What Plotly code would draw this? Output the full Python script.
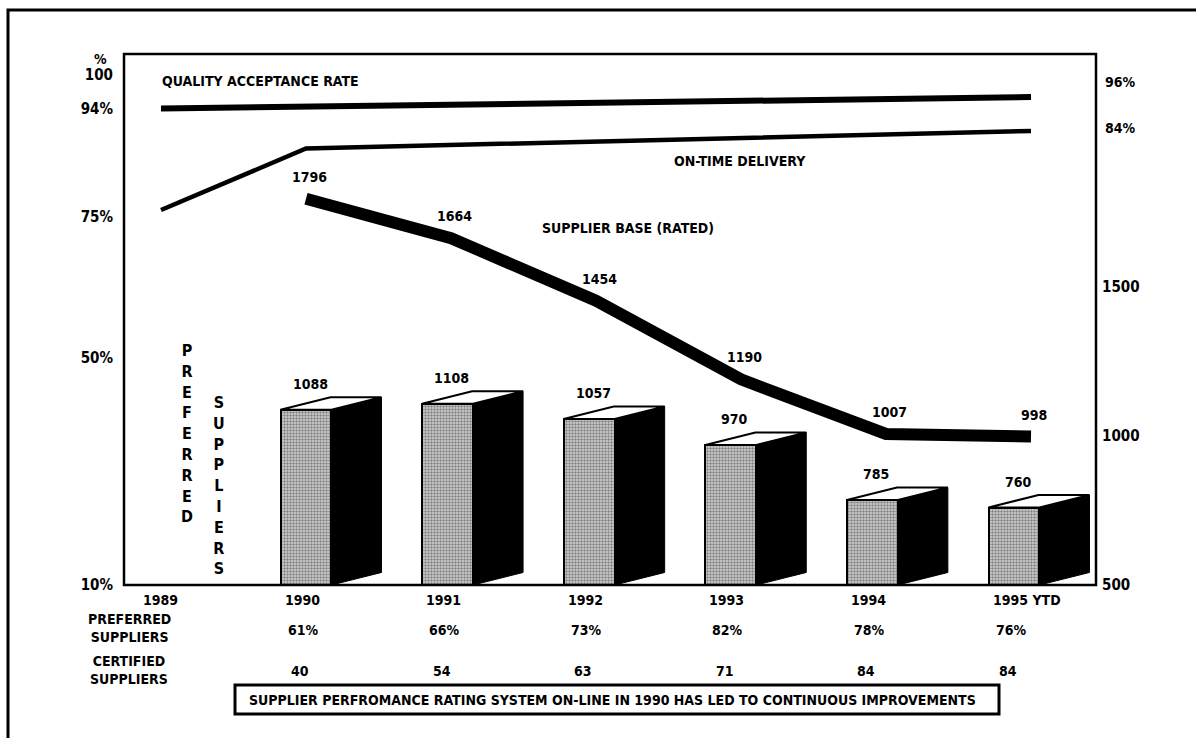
import plotly.graph_objects as go

# ---------------- data ----------------
years = [1989, 1990, 1991, 1992, 1993, 1994, 1995]
year_labels = ["1989", "1990", "1991", "1992", "1993", "1994", "1995 YTD"]
bar_years = [1990, 1991, 1992, 1993, 1994, 1995]
preferred_suppliers = [1088, 1108, 1057, 970, 785, 760]
supplier_base = [1796, 1664, 1454, 1190, 1007, 998]
preferred_pct = [61, 66, 73, 82, 78, 76]
certified_suppliers = [40, 54, 63, 71, 84, 84]
quality_years = [1989, 1995]
quality_rate = [94, 96]
ontime_years = [1989, 1990, 1995]
ontime_rate = [75, 82, 84]
pct_tickvals = [100, 94, 75, 50, 10]
pct_ticktext = ["100", "94%", "75%", "50%", "10%"]
base_tickvals = [500, 1000, 1500]

# ---------------- style / layout constants ----------------
FONT = "Liberation Sans Narrow, DejaVu Sans Condensed, Arial Narrow, sans-serif"
FS = 14
W, H = 1196, 738
L, R, T, B = 124, 100, 54, 153
PW, PH = W - L - R, H - T - B
BASE = 500
BAR_W = 0.36
DEPTH_X = 0.353
DEPTH_Y = 42


def px_x(p):
    return (p - L) / PW


def px_y(p):
    return (H - B - p) / PH


def font(size=FS):
    return dict(family=FONT, size=size, color="black", weight="bold")


def label(x, y, text, xref="paper", yref="paper", xanchor="center", size=FS, **kw):
    return dict(x=x, y=y, xref=xref, yref=yref, text=text, showarrow=False,
                xanchor=xanchor, yanchor="middle", font=font(size), **kw)


fig = go.Figure()

# front faces of the 3D bars
fig.add_trace(go.Bar(
    x=bar_years, y=[v - BASE for v in preferred_suppliers], base=BASE,
    width=BAR_W, xaxis="x", yaxis="y2",
    marker=dict(color="#cdcdcd", line=dict(color="black", width=2),
                pattern=dict(shape=".", fgcolor="#303030", bgcolor="#d6d6d6",
                             size=3, solidity=0.5)),
    showlegend=False, hoverinfo="skip"))

# side faces (black) and top faces (white), computed from the bar values
sx, sy, tx, ty = [], [], [], []
for x, v in zip(bar_years, preferred_suppliers):
    r = x + BAR_W / 2
    l = x - BAR_W / 2
    sx += [r, r, r + DEPTH_X, r + DEPTH_X, r, None]
    sy += [BASE, v, v + DEPTH_Y, BASE + DEPTH_Y, BASE, None]
    tx += [l, r, r + DEPTH_X, l + DEPTH_X, l, None]
    ty += [v, v, v + DEPTH_Y, v + DEPTH_Y, v, None]
fig.add_trace(go.Scatter(x=sx, y=sy, xaxis="x", yaxis="y2", mode="lines",
                         fill="toself", fillcolor="black",
                         line=dict(color="black", width=1),
                         showlegend=False, hoverinfo="skip"))
fig.add_trace(go.Scatter(x=tx, y=ty, xaxis="x", yaxis="y2", mode="lines",
                         fill="toself", fillcolor="white",
                         line=dict(color="black", width=2),
                         showlegend=False, hoverinfo="skip"))

# lines
fig.add_trace(go.Scatter(x=quality_years, y=quality_rate, xaxis="x2", yaxis="y",
                         mode="lines", line=dict(color="black", width=6),
                         showlegend=False, hoverinfo="skip"))
fig.add_trace(go.Scatter(x=ontime_years, y=ontime_rate, xaxis="x2", yaxis="y3",
                         mode="lines", line=dict(color="black", width=4.5),
                         showlegend=False, hoverinfo="skip"))
fig.add_trace(go.Scatter(x=bar_years, y=supplier_base, xaxis="x2", yaxis="y2",
                         mode="lines", line=dict(color="black", width=12),
                         showlegend=False, hoverinfo="skip"))

ann = []
# supplier base value labels
for x, v in zip(bar_years, supplier_base):
    ann.append(label(x, v, str(v), xref="x2", yref="y2", xshift=3, yshift=22))
# bar value labels
for x, v in zip(bar_years, preferred_suppliers):
    ann.append(label(x, v, str(v), xref="x", yref="y2", xshift=4, yshift=26))

# series names
ann.append(label(px_x(160), px_y(81), "QUALITY ACCEPTANCE RATE", xanchor="left"))
ann.append(label(px_x(740), px_y(161), "ON-TIME DELIVERY"))
ann.append(label(px_x(628), px_y(228), "SUPPLIER BASE (RATED)"))

# end-of-line values on the right
ann.append(label(px_x(1103), quality_rate[-1], f"{quality_rate[-1]}%", yref="y",
                 xanchor="left", yshift=15))
ann.append(label(px_x(1103), ontime_rate[-1], f"{ontime_rate[-1]}%", yref="y3",
                 xanchor="left", yshift=3))

# "%" unit above the left axis
ann.append(label(px_x(100), px_y(59), "%"))

# vertical words
ann.append(label(px_x(187), px_y(434), "<br>".join("PREFERRED"), size=16))
ann.append(label(px_x(219), px_y(485), "<br>".join("SUPPLIERS"), size=16))

# table below the chart
for yr, lab in zip(years, year_labels):
    ann.append(label(yr - BAR_W / 2, px_y(600), lab, xref="x", xanchor="left", xshift=2))
for x, p in zip(bar_years, preferred_pct):
    ann.append(label(x, px_y(630), f"{p}%", xref="x", xshift=-3))
for x, c in zip(bar_years, certified_suppliers):
    ann.append(label(x, px_y(671), str(c), xref="x", xshift=-6))
ann.append(label(px_x(129), px_y(628), "PREFERRED<br>SUPPLIERS"))
ann.append(label(px_x(129), px_y(670), "CERTIFIED<br>SUPPLIERS"))
ann.append(label(px_x(612), px_y(700),
                 "SUPPLIER PERFROMANCE RATING SYSTEM ON-LINE IN 1990 HAS LED TO CONTINUOUS IMPROVEMENTS"))

shapes = [
    # plot frame
    dict(type="rect", xref="paper", yref="paper", x0=0, y0=0, x1=1, y1=1,
         line=dict(color="black", width=2.5), layer="above"),
    # outer frame
    dict(type="rect", xref="paper", yref="paper", x0=px_x(8), y0=px_y(750),
         x1=px_x(1210), y1=px_y(10), line=dict(color="black", width=3)),
    # caption box
    dict(type="rect", xref="paper", yref="paper", x0=px_x(235), y0=px_y(714),
         x1=px_x(999), y1=px_y(685), line=dict(color="black", width=3)),
]

fig.update_layout(
    width=W, height=H,
    margin=dict(l=L, r=R, t=T, b=B),
    paper_bgcolor="white", plot_bgcolor="rgba(0,0,0,0)",
    font=font(),
    showlegend=False,
    bargap=0,
    xaxis=dict(range=[1990 - (306 - L) / 141.6, 1990 + (L + PW - 306) / 141.6],
               showticklabels=False, showgrid=False, zeroline=False, showline=False,
               ticks=""),
    xaxis2=dict(overlaying="x", range=[1990 - (306 - L) / 145.0, 1990 + (L + PW - 306) / 145.0],
                visible=False),
    yaxis=dict(range=[10, 103.6], tickvals=pct_tickvals, ticktext=pct_ticktext,
               showgrid=False, zeroline=False, showline=False, ticks="",
               ticklabelstandoff=10, tickfont=font(15)),
    yaxis2=dict(overlaying="y", side="right", range=[BASE, 2282], tickvals=base_tickvals,
                showgrid=False, zeroline=False, showline=False, ticks="",
                ticklabelstandoff=5, tickfont=font(15)),
    yaxis3=dict(overlaying="y", range=[32.28, 92.77], visible=False),
    annotations=ann,
    shapes=shapes,
)

fig.write_html("out.html")
